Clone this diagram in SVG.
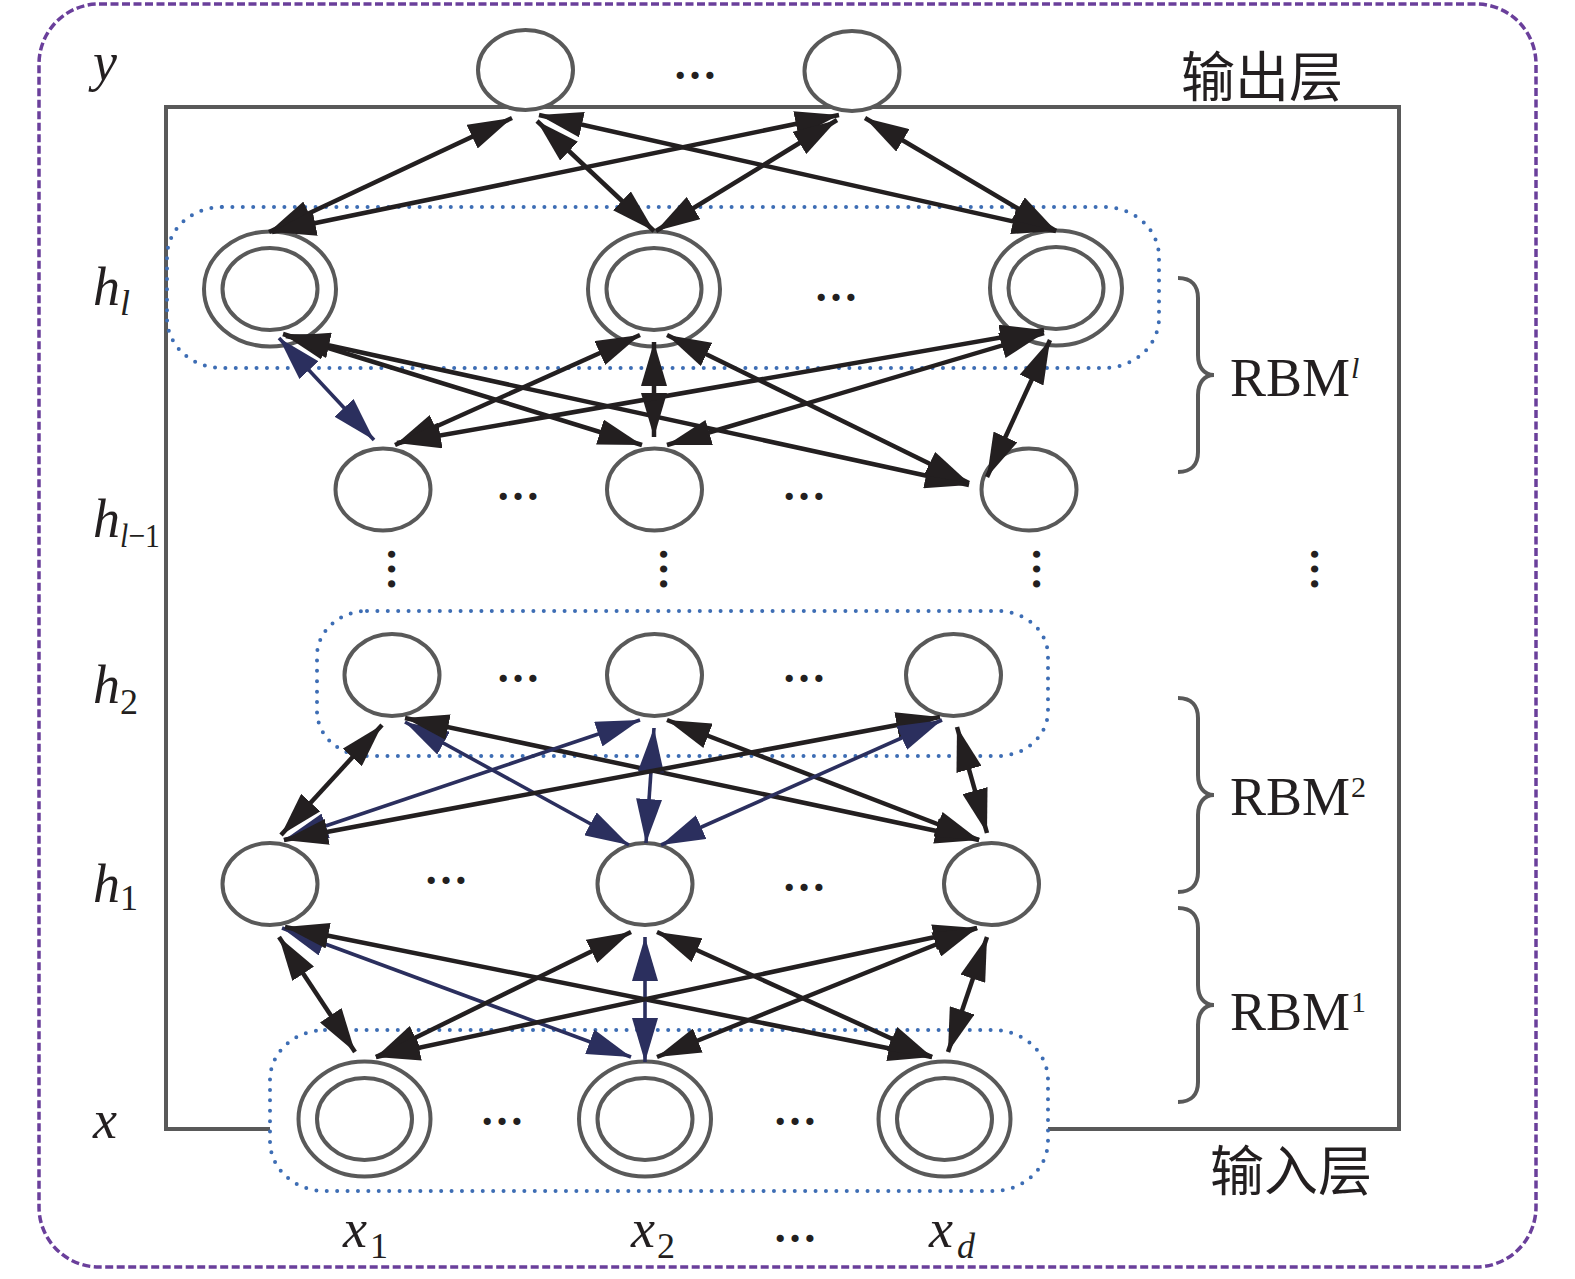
<svg xmlns="http://www.w3.org/2000/svg" width="1575" height="1279" viewBox="0 0 1575 1279">
<style>
.frame{fill:none;stroke:#595959;stroke-width:4}
.outer{fill:none;stroke:#6a3f9b;stroke-width:3.5;stroke-dasharray:8 3.5}
.grp{fill:none;stroke:#3d6db4;stroke-width:4;stroke-dasharray:0 10.4;stroke-linecap:round}
.n{fill:#fff;stroke:#595959;stroke-width:4}
.k{stroke:#231f20;stroke-width:4.5;fill:none;marker-start:url(#hk);marker-end:url(#hk)}
.b{stroke:#2b2f5e;stroke-width:3.6;fill:none;marker-start:url(#hb);marker-end:url(#hb)}
.it{font-family:"Liberation Serif","Times New Roman",serif;font-style:italic;fill:#231f20}
.rm{font-family:"Liberation Serif","Times New Roman",serif;fill:#231f20}
.cjk{font-family:"Liberation Serif","Noto Sans CJK SC",sans-serif;fill:#231f20;font-size:54px}
.dots{font-family:"Liberation Serif",serif;font-size:44px;font-weight:bold;fill:#231f20;text-anchor:middle}
.brace{fill:none;stroke:#595959;stroke-width:4}
</style>
<defs>
<marker id="hk" viewBox="0 0 44 26" refX="44" refY="13" markerWidth="44" markerHeight="26" markerUnits="userSpaceOnUse" orient="auto-start-reverse"><path d="M0,0 L44,13 L0,26 z" fill="#231f20"/></marker>
<marker id="hb" viewBox="0 0 44 26" refX="44" refY="13" markerWidth="44" markerHeight="26" markerUnits="userSpaceOnUse" orient="auto-start-reverse"><path d="M0,0 L44,13 L0,26 z" fill="#2b2f5e"/></marker>
<path id="br" d="M-38,-97 C-24,-97 -18,-89 -18,-77 L-18,-20 C-18,-8 -12,0 -2,0 C-12,0 -18,8 -18,20 L-18,77 C-18,89 -24,97 -38,97"/>
</defs>
<rect class="outer" x="39" y="4" width="1497" height="1263" rx="60" ry="60"/>
<path class="frame" d="M270,1129 H166 V107 H1399 V1129 H1048"/>
<g id="groups">
<rect class="grp" x="167" y="207" width="992" height="161" rx="55" ry="50"/>
<rect class="grp" x="317" y="611" width="731" height="145" rx="50" ry="45"/>
<rect class="grp" x="270" y="1030" width="778" height="161" rx="55" ry="50"/>
</g>
<g id="node-y1"><ellipse class="n" cx="525.5" cy="70" rx="47.5" ry="40"/></g>
<g id="node-y2"><ellipse class="n" cx="852" cy="71" rx="47.5" ry="40"/></g>
<g id="node-hl1"><ellipse class="n" cx="270" cy="289" rx="66" ry="57.5"/><ellipse class="n" cx="270" cy="289" rx="47.5" ry="41"/></g>
<g id="node-hl2"><ellipse class="n" cx="654" cy="289" rx="66" ry="57.5"/><ellipse class="n" cx="654" cy="289" rx="47.5" ry="41"/></g>
<g id="node-hl3"><ellipse class="n" cx="1056" cy="288" rx="66" ry="57.5"/><ellipse class="n" cx="1056" cy="288" rx="47.5" ry="41"/></g>
<g id="node-hm1"><ellipse class="n" cx="383" cy="489.5" rx="47.5" ry="41"/></g>
<g id="node-hm2"><ellipse class="n" cx="654.5" cy="489.5" rx="47.5" ry="41"/></g>
<g id="node-hm3"><ellipse class="n" cx="1029" cy="489.5" rx="47.5" ry="41"/></g>
<g id="node-h21"><ellipse class="n" cx="392" cy="675" rx="47.5" ry="41"/></g>
<g id="node-h22"><ellipse class="n" cx="654.5" cy="675" rx="47.5" ry="41"/></g>
<g id="node-h23"><ellipse class="n" cx="953.5" cy="675" rx="47.5" ry="41"/></g>
<g id="node-h11"><ellipse class="n" cx="270" cy="884" rx="47.5" ry="41"/></g>
<g id="node-h12"><ellipse class="n" cx="645" cy="884" rx="47.5" ry="41"/></g>
<g id="node-h13"><ellipse class="n" cx="991.5" cy="884" rx="47.5" ry="41"/></g>
<g id="node-x1"><ellipse class="n" cx="364.5" cy="1119" rx="66" ry="57.5"/><ellipse class="n" cx="364.5" cy="1119" rx="47.5" ry="41"/></g>
<g id="node-x2"><ellipse class="n" cx="645" cy="1119" rx="66" ry="57.5"/><ellipse class="n" cx="645" cy="1119" rx="47.5" ry="41"/></g>
<g id="node-x3"><ellipse class="n" cx="944.5" cy="1119" rx="66" ry="57.5"/><ellipse class="n" cx="944.5" cy="1119" rx="47.5" ry="41"/></g>
<g id="connectors">
<path class="k" d="M512,118 L269,232"/>
<path class="k" d="M839,115 L272,232"/>
<path class="k" d="M537,121 L654,231"/>
<path class="k" d="M539,115 L1056,231"/>
<path class="k" d="M837,120 L656,231"/>
<path class="k" d="M865,118 L1056,231"/>
<path class="b" d="M279,338 L374,440"/>
<path class="k" d="M283,334 L642,445"/>
<path class="k" d="M286,336 L969,485"/>
<path class="k" d="M640,335 L395,445"/>
<path class="k" d="M654,342 L654,437"/>
<path class="k" d="M667,335 L969,483"/>
<path class="k" d="M1044,330 L397,443"/>
<path class="k" d="M1044,333 L667,445"/>
<path class="k" d="M1050,340 L987,477"/>
<path class="k" d="M382,725 L281,835"/>
<path class="b" d="M405,722 L629,845"/>
<path class="k" d="M405,718 L979,840"/>
<path class="b" d="M640,720 L284,840"/>
<path class="b" d="M654,728 L646,843"/>
<path class="k" d="M667,720 L979,840"/>
<path class="k" d="M940,717 L284,840"/>
<path class="b" d="M942,720 L661,845"/>
<path class="k" d="M957,727 L987,833"/>
<path class="k" d="M279,937 L355,1052"/>
<path class="b" d="M282,928 L631,1057"/>
<path class="k" d="M285,927 L932,1057"/>
<path class="k" d="M631,932 L376,1057"/>
<path class="b" d="M645,937 L645,1062"/>
<path class="k" d="M657,932 L932,1057"/>
<path class="k" d="M977,928 L376,1057"/>
<path class="k" d="M977,928 L657,1057"/>
<path class="k" d="M987,937 L948,1052"/>
</g>
<g id="dots">
<text class="dots" x="695" y="79">…</text>
<text class="dots" x="836" y="301">…</text>
<text class="dots" x="518" y="500">…</text>
<text class="dots" x="804" y="500">…</text>
<text class="dots" x="518" y="682">…</text>
<text class="dots" x="804" y="682">…</text>
<text class="dots" x="446" y="884">…</text>
<text class="dots" x="804" y="891">…</text>
<text class="dots" x="502" y="1125">…</text>
<text class="dots" x="795" y="1125">…</text>
<text class="dots" x="795" y="1242">…</text>
<text class="dots" transform="translate(390,569) rotate(90)" x="0" y="2.2">…</text>
<text class="dots" transform="translate(662,569) rotate(90)" x="0" y="2.2">…</text>
<text class="dots" transform="translate(1035,569) rotate(90)" x="0" y="2.2">…</text>
<text class="dots" transform="translate(1313,569) rotate(90)" x="0" y="2.2">…</text>
</g>
<g id="braces">
<use href="#br" class="brace" transform="translate(1216,375)"/>
<use href="#br" class="brace" transform="translate(1216,795)"/>
<use href="#br" class="brace" transform="translate(1216,1005)"/>
</g>
<g id="labels">
<text class="it" x="93" y="80" font-size="54">y</text>
<text class="it" x="93" y="305" font-size="54">h</text><text class="it" x="120" y="315" font-size="36">l</text>
<text class="it" x="93" y="537" font-size="54">h</text><text x="120" y="547" font-size="34" textLength="40" lengthAdjust="spacingAndGlyphs"><tspan class="it">l</tspan><tspan class="rm">−1</tspan></text>
<text class="it" x="93" y="703" font-size="54">h</text><text class="rm" x="120" y="714" font-size="36">2</text>
<text class="it" x="93" y="902" font-size="54">h</text><text class="rm" x="120" y="910" font-size="36">1</text>
<text class="it" x="93" y="1138" font-size="54">x</text>
<text class="it" x="343" y="1247" font-size="54">x</text><text class="rm" x="370" y="1258" font-size="36">1</text>
<text class="it" x="631" y="1247" font-size="54">x</text><text class="rm" x="657" y="1258" font-size="36">2</text>
<text class="it" x="929" y="1247" font-size="54">x</text><text class="it" x="957" y="1258" font-size="36">d</text>
<text class="rm" x="1230" y="396" font-size="54">RBM</text><text class="it" x="1351" y="378" font-size="30">l</text>
<text class="rm" x="1230" y="815" font-size="54">RBM</text><text class="rm" x="1351" y="797" font-size="30">2</text>
<text class="rm" x="1230" y="1030" font-size="54">RBM</text><text class="rm" x="1351" y="1012" font-size="30">1</text>
<text class="cjk" x="1181" y="97">输出层</text>
<text class="cjk" x="1210" y="1191">输入层</text>
</g>
</svg>
